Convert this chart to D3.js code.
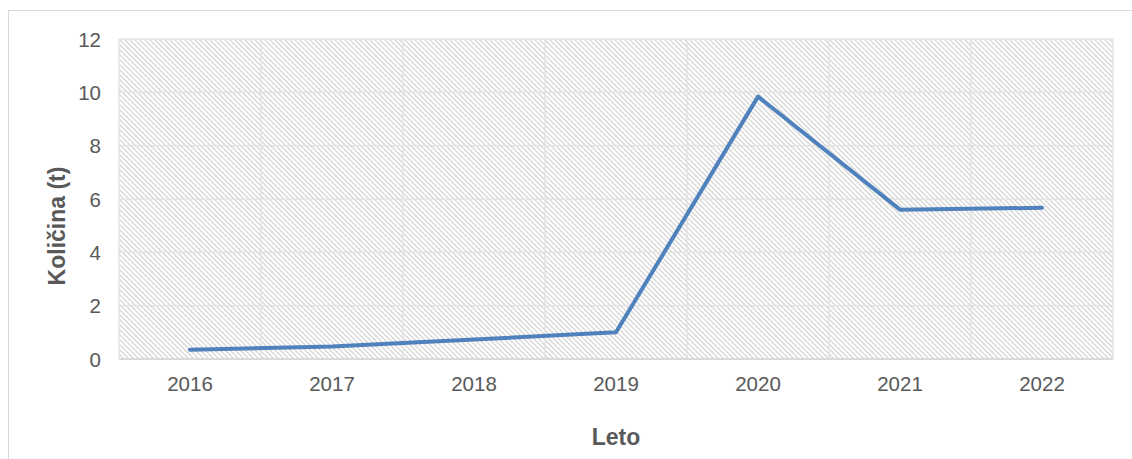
<!DOCTYPE html>
<html>
<head>
<meta charset="utf-8">
<script src="https://cdn.jsdelivr.net/npm/d3@7"></script>
<style>
  html, body { margin: 0; padding: 0; background: #fff; }
  svg { display: block; font-family: "Liberation Sans", Arial, sans-serif; }
</style>
</head>
<body>
<svg id="chart" width="1132" height="459"></svg>
<script>
// Annual quantities (tonnes)
const years = ["2016", "2017", "2018", "2019", "2020", "2021", "2022"];
const quantities = [0.35, 0.47, 0.73, 1.0, 9.84, 5.6, 5.67];
const yTicks = [0, 2, 4, 6, 8, 10, 12];
const xTitle = "Leto";
const yTitle = "Količina (t)";

const svg = d3.select("#chart");
const plot = { left: 119, right: 1113, top: 39, bottom: 359 };

// Outer chart frame
svg.append("rect")
  .attr("x", 8.5).attr("y", 10.5)
  .attr("width", 1140).attr("height", 470)
  .attr("fill", "none").attr("stroke", "#d9d9d9").attr("stroke-width", 1);

// Hatched plot-area fill
const defs = svg.append("defs");
const pat = defs.append("pattern")
  .attr("id", "hatch").attr("patternUnits", "userSpaceOnUse")
  .attr("width", 5).attr("height", 5);
pat.append("rect").attr("width", 5).attr("height", 5).attr("fill", "#fff");
pat.append("path")
  .attr("d", "M-1,-1 L6,6 M-1,4 L1,6 M4,-1 L6,1")
  .attr("stroke", "#d8d8d8").attr("stroke-width", 1.4);

const x = d3.scaleBand().domain(years).range([plot.left, plot.right]);
const y = d3.scaleLinear().domain([0, 12]).range([plot.bottom, plot.top]);

svg.append("rect")
  .attr("x", plot.left).attr("y", plot.top)
  .attr("width", plot.right - plot.left).attr("height", plot.bottom - plot.top)
  .attr("fill", "url(#hatch)");

// Horizontal gridlines
svg.append("g")
  .selectAll("line").data(yTicks.slice(1)).join("line")
  .attr("x1", plot.left).attr("x2", plot.right)
  .attr("y1", d => y(d)).attr("y2", d => y(d))
  .attr("stroke", "#e3e3e3").attr("stroke-width", 1.5);

// Vertical gridlines at category boundaries
const bounds = years.map(d => x(d)).concat([plot.right]);
svg.append("g")
  .selectAll("line").data(bounds).join("line")
  .attr("x1", d => d).attr("x2", d => d)
  .attr("y1", plot.top).attr("y2", plot.bottom)
  .attr("stroke", "#e3e3e3").attr("stroke-width", 1.5);

// Baseline
svg.append("line")
  .attr("x1", plot.left).attr("x2", plot.right)
  .attr("y1", y(0)).attr("y2", y(0))
  .attr("stroke", "#d9d9d9").attr("stroke-width", 2);

// Y axis labels
const yAxis = d3.axisLeft(y).tickValues(yTicks).tickSize(0).tickPadding(0);
const gy = svg.append("g").attr("transform", `translate(${plot.left - 18},0)`).call(yAxis);
gy.select(".domain").remove();
gy.selectAll("text")
  .attr("fill", "#595959").style("font-size", "20.5px")
  .attr("dy", "0.35em");

// X axis labels
const xAxis = d3.axisBottom(x).tickSize(0).tickPadding(0);
const gx = svg.append("g").attr("transform", `translate(0,${plot.bottom})`).call(xAxis);
gx.select(".domain").remove();
gx.selectAll("text")
  .attr("fill", "#595959").style("font-size", "20.5px")
  .attr("y", 32).attr("dy", null);

// Axis titles
svg.append("text")
  .attr("x", (plot.left + plot.right) / 2).attr("y", 445)
  .attr("text-anchor", "middle")
  .attr("fill", "#595959").style("font-size", "23px").style("font-weight", "bold")
  .text(xTitle);

svg.append("text")
  .attr("transform", `translate(65,${(plot.top + plot.bottom) / 2 + 27}) rotate(-90)`)
  .attr("text-anchor", "middle")
  .attr("fill", "#595959").style("font-size", "23px").style("font-weight", "bold")
  .text(yTitle);

// Data line
const line = d3.line()
  .x((d, i) => x(years[i]) + x.bandwidth() / 2)
  .y(d => y(d));

svg.append("path")
  .datum(quantities)
  .attr("d", line)
  .attr("fill", "none")
  .attr("stroke", "#4f81bd")
  .attr("stroke-width", 4)
  .attr("stroke-linejoin", "round")
  .attr("stroke-linecap", "round");
</script>
</body>
</html>
